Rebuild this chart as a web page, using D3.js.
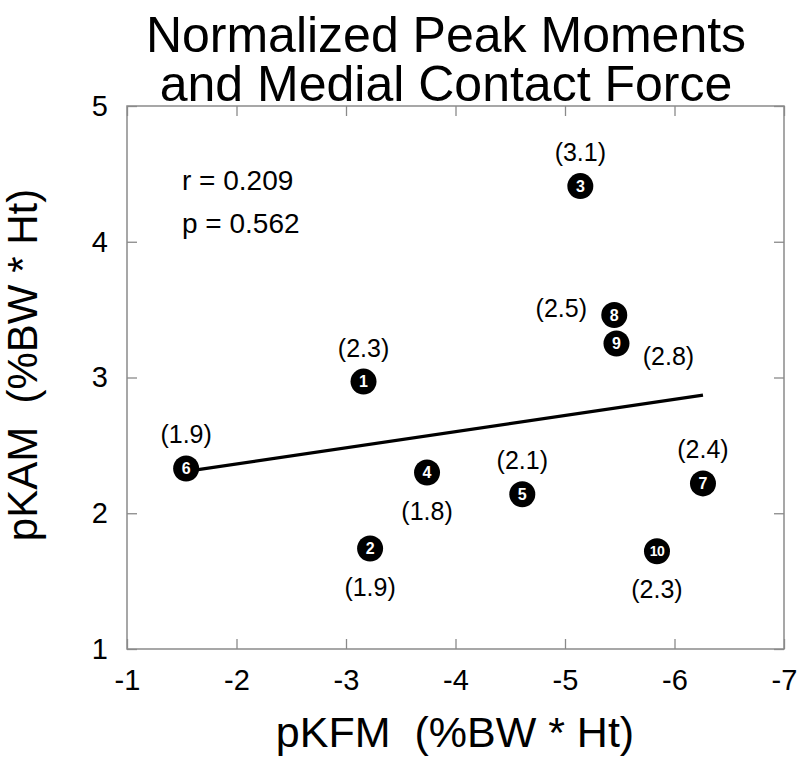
<!DOCTYPE html>
<html>
<head>
<meta charset="utf-8">
<script src="https://cdn.jsdelivr.net/npm/d3@7/dist/d3.min.js"></script>
<style>
  html, body { margin: 0; padding: 0; background: #fff; }
  svg { display: block; }
  text { font-family: "Liberation Sans", Arial, Helvetica, sans-serif; white-space: pre; }
</style>
</head>
<body>
<svg id="chart" width="800" height="758"></svg>
<script>
// ---- data ----
const subjects = [1, 2, 3, 4, 5, 6, 7, 8, 9, 10];
const pKFM = [-3.16, -3.22, -5.14, -3.74, -4.61, -1.54, -6.26, -5.45, -5.47, -5.84];
const pKAM = [2.97, 1.74, 4.41, 2.30, 2.14, 2.33, 2.22, 3.46, 3.25, 1.72];
const contactForce = ["(2.3)", "(1.9)", "(3.1)", "(1.8)", "(2.1)", "(1.9)", "(2.4)", "(2.5)", "(2.8)", "(2.3)"];
const labelSide = ["above", "below", "above", "below", "above", "above", "above", "left", "rightBelow", "below"];
const xTicks = [-1, -2, -3, -4, -5, -6, -7];
const yTicks = [1, 2, 3, 4, 5];
const titleLines = ["Normalized Peak Moments", "and Medial Contact Force"];
const statsText = ["r = 0.209", "p = 0.562"];
const xLabel = "pKFM  (%BW * Ht)";
const yLabel = "pKAM  (%BW * Ht)";

// ---- layout ----
const svg = d3.select("#chart");
const L = 127, R = 784, T = 106, B = 649;
const x = d3.scaleLinear().domain([-1, -7]).range([L, R]);
const y = d3.scaleLinear().domain([1, 5]).range([B, T]);
const axisColor = "#8a8a8a";
const FONT = '"Liberation Sans", Arial, Helvetica, sans-serif';

// title
svg.append("g").selectAll("text").data(titleLines).join("text")
  .attr("x", 446).attr("y", (d, i) => 52 + i * 49)
  .attr("text-anchor", "middle").attr("font-size", 50).attr("fill", "#000")
  .text(d => d);

// frame with inward ticks
function styleAxis(g) {
  g.select(".domain").remove();
  g.selectAll(".tick line").attr("stroke", axisColor).attr("stroke-width", 1.3);
  g.selectAll(".tick text").attr("font-size", 29).attr("fill", "#000").attr("font-family", FONT);
}
const fmt = d => String(d);
svg.append("g").attr("transform", `translate(0,${B})`)
  .call(d3.axisBottom(x).tickValues(xTicks).tickFormat(fmt).tickSizeInner(-10).tickSizeOuter(0).tickPadding(20))
  .call(styleAxis);
svg.append("g").attr("transform", `translate(0,${T})`)
  .call(d3.axisTop(x).tickValues(xTicks).tickFormat("").tickSizeInner(-10).tickSizeOuter(0))
  .call(styleAxis);
svg.append("g").attr("transform", `translate(${L},0)`)
  .call(d3.axisLeft(y).tickValues(yTicks).tickFormat(fmt).tickSizeInner(-10).tickSizeOuter(0).tickPadding(19))
  .call(styleAxis);
svg.append("g").attr("transform", `translate(${R},0)`)
  .call(d3.axisRight(y).tickValues(yTicks).tickFormat("").tickSizeInner(-10).tickSizeOuter(0))
  .call(styleAxis);
svg.append("rect").attr("x", L).attr("y", T).attr("width", R - L).attr("height", B - T)
  .attr("fill", "none").attr("stroke", axisColor).attr("stroke-width", 1.5);

// axis labels
svg.append("text").attr("x", 455).attr("y", 747).attr("text-anchor", "middle")
  .attr("font-size", 43).attr("fill", "#000").text(xLabel);
svg.append("text").attr("transform", "translate(37,365) rotate(-90)").attr("text-anchor", "middle")
  .attr("font-size", 42).attr("fill", "#000").text(yLabel);

// stats
svg.append("g").selectAll("text").data(statsText).join("text")
  .attr("x", 182).attr("y", (d, i) => 190 + i * 43)
  .attr("font-size", 28).attr("fill", "#000").text(d => d);

// regression line (least squares on the data)
const mx = d3.mean(pKFM), my = d3.mean(pKAM);
const sxy = d3.sum(pKFM, (v, i) => (v - mx) * (pKAM[i] - my));
const sxx = d3.sum(pKFM, v => (v - mx) * (v - mx));
const slope = sxy / sxx, icpt = my - slope * mx;
const xr = d3.extent(pKFM);
svg.append("line")
  .attr("x1", x(xr[0])).attr("y1", y(icpt + slope * xr[0]))
  .attr("x2", x(xr[1])).attr("y2", y(icpt + slope * xr[1]))
  .attr("stroke", "#000").attr("stroke-width", 3.2);

// points
const pts = subjects.map((s, i) => ({ s, x: pKFM[i], y: pKAM[i], f: contactForce[i], side: labelSide[i] }));
const g = svg.append("g");
const pg = g.selectAll("g.pt").data(pts).join("g").attr("class", "pt")
  .attr("transform", d => `translate(${x(d.x)},${y(d.y)})`);
pg.append("circle").attr("r", 13).attr("fill", "#000");
pg.append("text").attr("text-anchor", "middle").attr("dy", "0.36em")
  .attr("font-weight", "bold").attr("fill", "#fff")
  .attr("font-size", d => d.s >= 10 ? 14 : 16)
  .attr("letter-spacing", d => d.s >= 10 ? -0.5 : 0)
  .text(d => d.s);

const off = {
  above: [0, -34],
  below: [0, 38],
  left: [-53, -7],
  rightBelow: [52, 12]
};
pg.append("text").attr("text-anchor", "middle").attr("dy", "0.36em")
  .attr("x", d => off[d.side][0]).attr("y", d => off[d.side][1])
  .attr("font-size", 25).attr("fill", "#000")
  .text(d => d.f);
</script>
</body>
</html>
